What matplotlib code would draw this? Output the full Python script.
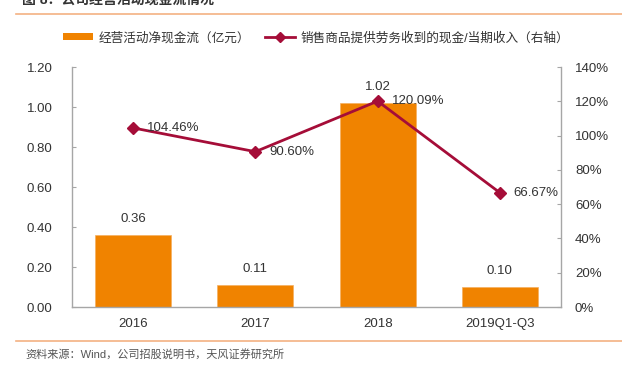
import matplotlib
matplotlib.use("Agg")
import matplotlib.pyplot as plt
from matplotlib.lines import Line2D
from matplotlib.patches import Patch

plt.rcParams['font.family'] = ['Liberation Sans', 'Noto Sans CJK SC', 'DejaVu Sans']

categories = ["2016", "2017", "2018", "2019Q1-Q3"]
cash_flow = [0.36, 0.11, 1.02, 0.10]
ratio = [104.46, 90.60, 120.09, 66.67]
left_ticks = [0.0, 0.2, 0.4, 0.6, 0.8, 1.0, 1.2]
right_ticks = [0, 20, 40, 60, 80, 100, 120, 140]

bar_name = "经营活动净现金流（亿元）"
line_name = "销售商品提供劳务收到的现金/当期收入（右轴）"
title = "图 8：公司经营活动现金流情况"
source = "资料来源：Wind，公司招股说明书，天风证券研究所"

ORANGE = "#F08300"
RED = "#A50D38"
TXT = "#333333"
SPINE = "#A6A6A6"
FS = 9.5

W, H = 622, 369
fig = plt.figure(figsize=(W / 100, H / 100), dpi=100)
ax = fig.add_axes([72 / W, 1 - 307 / H, (561 - 72) / W, (307 - 67) / H])
ax2 = ax.twinx()

x = list(range(len(categories)))
ax.bar(x, cash_flow, width=0.62, color=ORANGE, edgecolor="#F5B060", linewidth=0.5, zorder=2)
ax.set_xlim(-0.5, len(categories) - 0.5)
ax.set_ylim(0, 1.2)
ax.set_yticks(left_ticks)
ax.set_yticklabels([f"{v:.2f}" for v in left_ticks])
ax.set_xticks(x)
ax.set_xticklabels(categories)

for xi, v in zip(x, cash_flow):
    ax.annotate(f"{v:.2f}", (xi, v), xytext=(0, 7), textcoords="offset points",
                ha="center", va="bottom", fontsize=FS, color=TXT)

ax2.plot(x, ratio, color=RED, lw=2, marker="D", markersize=6.5, zorder=3)
ax2.set_ylim(0, 140)
ax2.set_yticks(right_ticks)
ax2.set_yticklabels([f"{v}%" for v in right_ticks])
for xi, v in zip(x, ratio):
    ax2.annotate(f"{v:.2f}%", (xi, v), xytext=(10, 0), textcoords="offset points",
                 ha="left", va="center", fontsize=FS, color=TXT)

for a in (ax, ax2):
    for s in a.spines.values():
        s.set_visible(False)
    a.tick_params(labelsize=FS, colors=TXT, length=3, width=0.8, direction="in")
ax.spines["left"].set_visible(True)
ax.spines["bottom"].set_visible(True)
ax2.spines["right"].set_visible(True)
for s in (ax.spines["left"], ax.spines["bottom"], ax2.spines["right"]):
    s.set_color(SPINE)
    s.set_linewidth(1.0)
ax.tick_params(axis="y", color=SPINE, pad=14)
ax2.tick_params(axis="y", color=SPINE, pad=10)
ax.tick_params(axis="x", length=0, pad=8)

handles = [Patch(facecolor=ORANGE, edgecolor="none"),
           Line2D([0], [0], color=RED, lw=2, marker="D", markersize=5)]
fig.legend(handles, [bar_name, line_name], loc="center", bbox_to_anchor=(316 / W, 1 - 38 / H),
           ncol=2, frameon=False, fontsize=9.1, handlelength=2.4, handleheight=0.5,
           columnspacing=1.2, handletextpad=0.4, labelcolor=TXT)

# header / footer
fig.add_artist(Line2D([16 / W, 1], [1 - 14 / H] * 2, color="#F4B183", lw=1.2))
fig.add_artist(Line2D([16 / W, 1], [1 - 341 / H] * 2, color="#F4B183", lw=1.2))
fig.text(22 / W, 1 - 7 / H, title, fontsize=10, color=TXT, ha="left", va="bottom", fontweight="bold")
fig.text(25 / W, 1 - 354 / H, source, fontsize=8, color="#555555", ha="left", va="center")

fig.savefig("out.png", dpi=100, facecolor="white")
